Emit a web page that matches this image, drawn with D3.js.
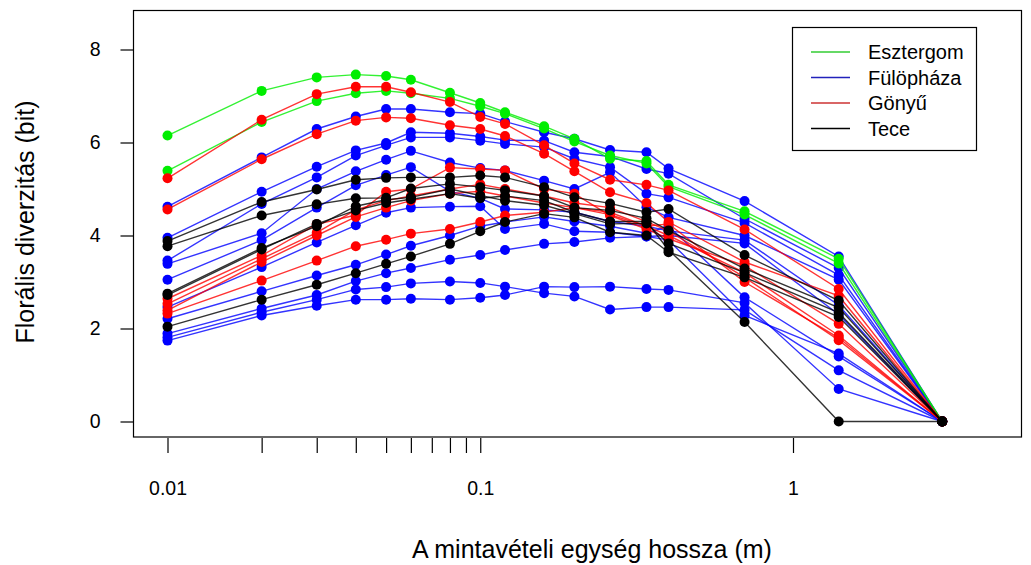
<!DOCTYPE html>
<html>
<head>
<meta charset="utf-8">
<script src="https://cdn.jsdelivr.net/npm/d3@7"></script>
<style>
  body { margin: 0; background: #fff; }
  text { font-family: "Liberation Sans", Arial, Helvetica, sans-serif; fill: #000; }
</style>
</head>
<body>
<svg id="chart" width="1031" height="565"></svg>
<script>
// Sampling unit length (m)
const lengths = [0.01, 0.02, 0.03, 0.04, 0.05, 0.06, 0.08, 0.1, 0.12, 0.16, 0.2, 0.26, 0.34, 0.4, 0.7, 1.4, 3];

// Floral diversity (bit) per transect, one row per transect
const esztergom = [
  [6.15, 7.11, 7.40, 7.46, 7.43, 7.35, 7.07, 6.85, 6.65, 6.35, 6.08, 5.65, 5.60, 5.09, 4.52, 3.50, 0],
  [5.39, 6.44, 6.89, 7.06, 7.11, 7.06, 6.95, 6.78, 6.62, 6.30, 6.02, 5.72, 5.55, 5.05, 4.45, 3.40, 0]
];
const fulophaza = [
  [4.62, 5.68, 6.29, 6.56, 6.72, 6.72, 6.65, 6.62, 6.45, 6.22, 6.08, 5.84, 5.79, 5.44, 4.74, 3.55, 0],
  [3.95, 4.94, 5.48, 5.83, 5.99, 6.22, 6.20, 6.13, 6.05, 6.04, 5.79, 5.70, 5.43, 5.33, 4.36, 3.30, 0],
  [3.46, 4.68, 5.25, 5.72, 5.94, 6.11, 6.11, 6.04, 5.97, 5.90, 5.65, 5.47, 4.90, 4.82, 4.27, 3.15, 0],
  [3.39, 4.05, 5.00, 5.38, 5.63, 5.82, 5.57, 5.45, 5.40, 5.18, 5.00, 5.36, 4.61, 4.39, 4.00, 3.05, 0],
  [3.05, 3.90, 4.60, 5.08, 5.30, 5.47, 4.95, 4.80, 4.57, 4.55, 4.50, 4.30, 4.20, 4.10, 3.90, 2.50, 0],
  [2.46, 3.32, 3.85, 4.22, 4.49, 4.60, 4.62, 4.63, 4.14, 4.25, 4.09, 4.07, 3.98, 4.00, 3.83, 2.30, 0],
  [2.21, 2.80, 3.14, 3.37, 3.59, 3.78, 4.00, 4.20, 4.29, 4.40, 4.30, 4.20, 4.05, 4.20, 2.67, 1.40, 0],
  [1.89, 2.43, 2.72, 3.02, 3.19, 3.30, 3.48, 3.58, 3.69, 3.82, 3.86, 3.95, 3.98, 3.90, 2.28, 1.46, 0],
  [1.81, 2.35, 2.62, 2.84, 2.89, 2.97, 3.01, 2.98, 2.90, 2.76, 2.69, 2.41, 2.46, 2.46, 2.40, 1.10, 0],
  [1.74, 2.28, 2.49, 2.62, 2.62, 2.64, 2.62, 2.66, 2.72, 2.90, 2.89, 2.90, 2.85, 2.83, 2.55, 0.70, 0]
];
const gonyu = [
  [5.23, 6.49, 7.04, 7.20, 7.20, 7.08, 6.87, 6.55, 6.40, 5.94, 5.55, 5.20, 5.09, 4.97, 4.13, 2.85, 0],
  [4.56, 5.64, 6.18, 6.47, 6.54, 6.52, 6.37, 6.29, 6.14, 5.76, 5.38, 4.93, 4.70, 4.29, 3.43, 2.70, 0],
  [2.64, 3.57, 4.24, 4.44, 4.94, 5.00, 5.46, 5.43, 5.40, 5.00, 4.90, 4.43, 4.14, 3.93, 3.35, 2.10, 0],
  [2.32, 3.03, 3.46, 3.77, 3.91, 4.04, 4.14, 4.29, 4.43, 4.50, 4.60, 4.50, 4.20, 4.00, 3.20, 1.85, 0],
  [2.53, 3.50, 4.06, 4.55, 4.75, 4.85, 5.00, 5.10, 5.00, 4.85, 4.70, 4.60, 4.30, 4.10, 3.10, 1.75, 0],
  [2.39, 3.43, 4.00, 4.40, 4.60, 4.75, 4.90, 4.95, 4.85, 4.70, 4.60, 4.45, 4.20, 4.25, 3.00, 1.80, 0]
];
const tece = [
  [3.88, 4.72, 4.99, 5.20, 5.24, 5.25, 5.25, 5.29, 5.25, 5.04, 4.82, 4.69, 4.50, 4.57, 3.58, 2.60, 0],
  [3.77, 4.43, 4.67, 4.80, 4.81, 5.01, 5.11, 5.04, 4.97, 4.85, 4.60, 4.54, 4.37, 4.11, 3.29, 2.45, 0],
  [2.75, 3.73, 4.20, 4.63, 4.77, 4.82, 5.00, 4.86, 4.75, 4.65, 4.47, 4.25, 4.26, 3.83, 3.20, 2.34, 0],
  [2.04, 2.62, 2.94, 3.19, 3.39, 3.55, 3.82, 4.09, 4.29, 4.47, 4.39, 4.07, 4.00, 3.64, 3.10, 2.25, 0],
  [2.72, 3.70, 4.25, 4.54, 4.70, 4.78, 4.90, 4.80, 4.85, 4.75, 4.50, 4.30, 4.30, 3.69, 2.14, 0, 0]
];

const siteNames = ["Esztergom", "Fülöpháza", "Gönyű", "Tece"];
const siteColors = ["#00ee00", "#0000ff", "#ff0000", "#000000"];
const legendColors = ["#33cc33", "#2222bb", "#cc3333", "#000000"];

const xTicks = [0.01, 0.02, 0.03, 0.04, 0.05, 0.06, 0.07, 0.08, 0.09, 0.1, 1];
const xTickLabels = { 0.01: "0.01", 0.1: "0.1", 1: "1" };
const yTicks = [0, 2, 4, 6, 8];

const xTitle = "A mintavételi egység hossza (m)";
const yTitle = "Florális diverzitás (bit)";

const svg = d3.select("#chart");

const box = { left: 133.5, right: 1021.5, top: 10.5, bottom: 437 };

const x = d3.scaleLog().domain([0.01, 1]).range([167.5, 793]);
const y = d3.scaleLinear().domain([0, 8]).range([421.5, 49.5]);

// plot frame
svg.append("rect")
  .attr("x", box.left).attr("y", box.top)
  .attr("width", box.right - box.left).attr("height", box.bottom - box.top)
  .attr("fill", "none").attr("stroke", "#000").attr("stroke-width", 1.2);

// y axis
const yAxis = svg.append("g")
  .attr("transform", `translate(${box.left},0)`)
  .call(d3.axisLeft(y).tickValues(yTicks).tickSize(13).tickPadding(20).tickFormat(d3.format("d")));
yAxis.select(".domain").remove();
yAxis.selectAll("line").attr("stroke-width", 1.2);
yAxis.selectAll("text").attr("font-size", 19.5).attr("font-family", "Liberation Sans, Arial, sans-serif");

// x axis
const xAxis = svg.append("g")
  .attr("transform", `translate(0,${box.bottom + 1})`)
  .call(d3.axisBottom(x).tickValues(xTicks).tickSize(15).tickPadding(28)
    .tickFormat(d => xTickLabels[d] || ""));
xAxis.select(".domain").remove();
xAxis.selectAll("line").attr("stroke-width", 1.2);
xAxis.selectAll("text").attr("font-size", 19.5).attr("font-family", "Liberation Sans, Arial, sans-serif");

// axis titles
svg.append("text")
  .attr("x", 592).attr("y", 558)
  .attr("text-anchor", "middle").attr("font-size", 25)
  .text(xTitle);
svg.append("text")
  .attr("transform", "translate(34,222) rotate(-90)")
  .attr("text-anchor", "middle").attr("font-size", 25)
  .text(yTitle);

// series
const line = d3.line().x((d, i) => x(lengths[i])).y(d => y(d));
const drawOrder = [
  { rows: fulophaza, color: siteColors[1] },
  { rows: esztergom, color: siteColors[0] },
  { rows: gonyu, color: siteColors[2] },
  { rows: tece, color: siteColors[3] }
];
const plot = svg.append("g");
drawOrder.forEach(site => {
  site.rows.forEach(row => {
    plot.append("path")
      .datum(row)
      .attr("d", line)
      .attr("fill", "none")
      .attr("stroke", site.color)
      .attr("stroke-width", 1.4)
      .attr("stroke-opacity", 0.8);
    plot.selectAll(null)
      .data(row)
      .enter().append("circle")
      .attr("cx", (d, i) => x(lengths[i]))
      .attr("cy", d => y(d))
      .attr("r", 5)
      .attr("fill", site.color);
  });
});

// legend
const legend = svg.append("g");
legend.append("rect")
  .attr("x", 792.5).attr("y", 27.5).attr("width", 184).attr("height", 123)
  .attr("fill", "#fff").attr("stroke", "#000").attr("stroke-width", 1.2);
siteNames.forEach((name, i) => {
  const ly = 52 + i * 25.5;
  legend.append("line")
    .attr("x1", 811).attr("x2", 850).attr("y1", ly).attr("y2", ly)
    .attr("stroke", legendColors[i]).attr("stroke-width", 1.5);
  legend.append("text")
    .attr("x", 868).attr("y", ly).attr("dy", "0.35em")
    .attr("font-size", 20)
    .text(name);
});
</script>
</body>
</html>
